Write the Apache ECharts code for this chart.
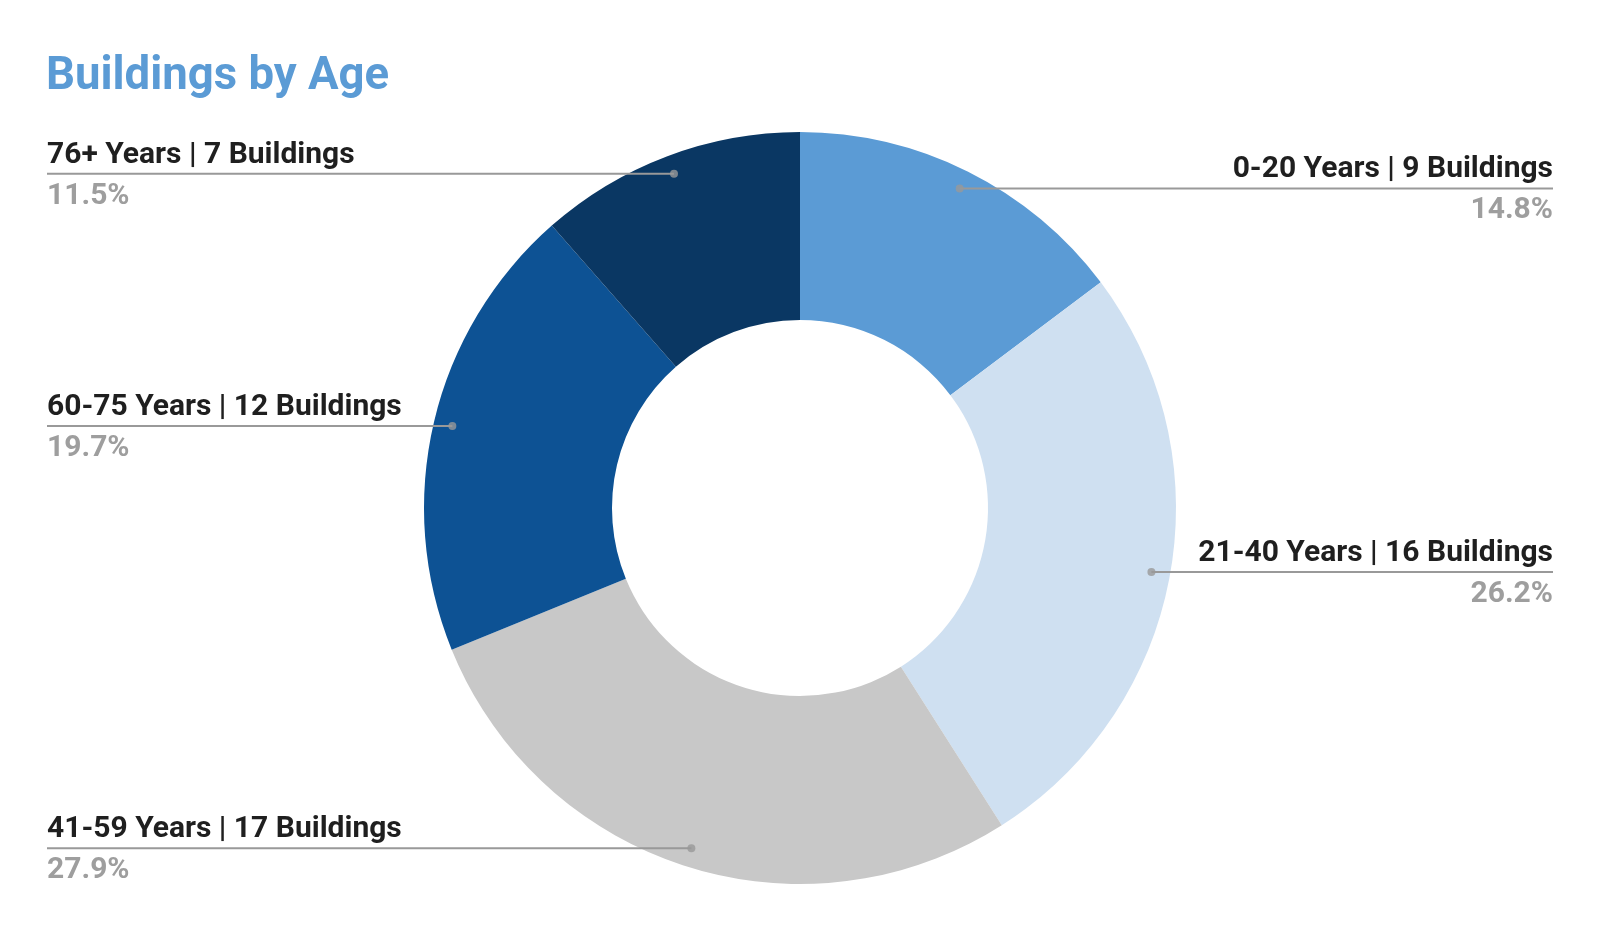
<!DOCTYPE html>
<html>
<head>
<meta charset="utf-8">
<style>
  html, body { margin: 0; padding: 0; background: #ffffff; }
  #chart { width: 1600px; height: 932px; }
</style>
<script src="https://cdn.jsdelivr.net/npm/echarts@6/dist/echarts.min.js"></script>
</head>
<body>
<div id="chart"></div>
<script>
// ---- Data ----
const categories = ['0-20 Years', '21-40 Years', '41-59 Years', '60-75 Years', '76+ Years'];
const buildings = [9, 16, 17, 12, 7];
const sliceColors = ['#5b9bd5', '#cfe0f1', '#c8c8c8', '#0d5294', '#0a3763'];

// ---- Layout constants ----
const CENTER = [800, 508];
const OUTER_R = 376;
const INNER_R = 188;
const DOT_FRAC = 0.95;

const total = buildings.reduce((a, b) => a + b, 0);
// mid-point (in value units) of each slice, for dot placement on a polar axis
const midValues = [];
let acc = 0;
buildings.forEach(v => { midValues.push(acc + v / 2); acc += v; });

const chart = echarts.init(document.getElementById('chart'), null, { renderer: 'canvas' });

const pieData = categories.map((c, i) => ({ name: c, value: buildings[i], itemStyle: { color: sliceColors[i] } }));

const option = {
  backgroundColor: '#ffffff',
  animation: false,
  textStyle: { fontFamily: 'Roboto' },
  title: {
    text: 'Buildings by Age',
    left: 41,
    top: 50,
    textStyle: { color: '#5b9bd5', fontSize: 45.5, fontWeight: 'bold', fontFamily: 'Roboto' }
  },
  polar: { center: CENTER, radius: OUTER_R },
  angleAxis: {
    type: 'value', min: 0, max: total, startAngle: 90, clockwise: true,
    show: false, axisLine: { show: false }, splitLine: { show: false }
  },
  radiusAxis: { type: 'value', min: 0, max: 1, show: false, splitLine: { show: false } },
  series: [
    {
      // visible slices
      type: 'pie',
      z: 2,
      center: CENTER,
      radius: [INNER_R, OUTER_R],
      startAngle: 90,
      clockwise: true,
      itemStyle: { borderWidth: 0 },
      emphasis: { disabled: true },
      silent: true,
      label: { show: false },
      labelLine: { show: false },
      data: pieData
    },
    {
      // transparent overlay carrying the labels and leader lines
      type: 'pie',
      z: 5,
      center: CENTER,
      radius: [INNER_R, OUTER_R],
      startAngle: 90,
      clockwise: true,
      avoidLabelOverlap: false,
      silent: true,
      emphasis: { disabled: true },
      itemStyle: { color: 'rgba(0,0,0,0)', borderWidth: 0 },
      data: categories.map((c, i) => ({ name: c, value: buildings[i] })),
      label: {
        show: true,
        position: 'outer',
        alignTo: 'edge',
        edgeDistance: 47,
        opacity: 1,
        formatter: function (p) {
          const pct = (p.value / total * 100).toFixed(1);
          return '{n|' + p.name + ' | ' + p.value + ' Buildings}\n{p|' + pct + '%}';
        },
        rich: {
          n: { fontSize: 30, fontWeight: 'bold', color: '#1f1f1f', lineHeight: 41, fontFamily: 'Roboto' },
          p: { fontSize: 30, fontWeight: 'bold', color: '#9e9e9e', lineHeight: 41, fontFamily: 'Roboto' }
        }
      },
      labelLine: {
        show: true, length: 10, length2: 10, smooth: false,
        lineStyle: { color: '#999999', width: 2, opacity: 1 }
      },
      labelLayout: function (p) {
        const pts = p.labelLinePoints;
        if (!pts) return {};
        const cx = CENTER[0], cy = CENTER[1];
        const ax = cx + (pts[0][0] - cx) * DOT_FRAC;
        const ay = cy + (pts[0][1] - cy) * DOT_FRAC;
        const isLeft = pts[0][0] < cx;
        const r = p.labelRect;
        const farX = isLeft ? r.x : r.x + r.width;
        return {
          y: ay + 2,
          verticalAlign: 'middle',
          labelLinePoints: [[ax, ay], [ax, ay], [farX, ay]]
        };
      }
    },
    {
      type: 'scatter',
      coordinateSystem: 'polar',
      symbol: 'circle',
      symbolSize: 8,
      silent: true,
      z: 10,
      itemStyle: { color: '#999999' },
      data: midValues.map(m => [DOT_FRAC, m])
    }
  ]
};

chart.setOption(option);
</script>
</body>
</html>
